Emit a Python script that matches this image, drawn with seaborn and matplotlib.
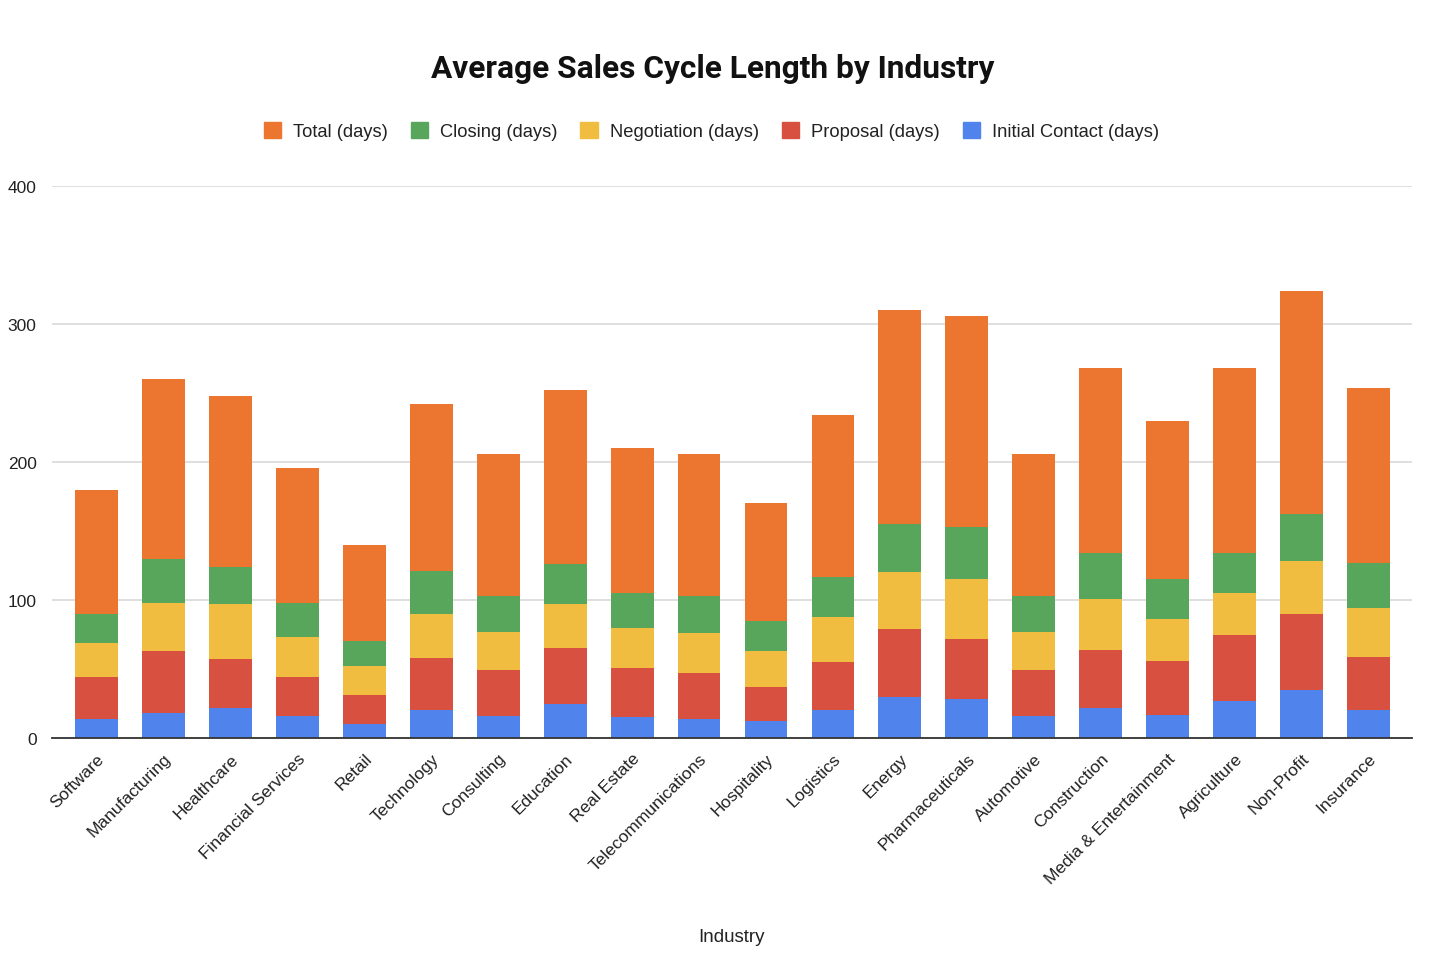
import pandas as pd
import numpy as np
import seaborn as sns
import matplotlib.pyplot as plt
from matplotlib.patches import Patch

# data
industries = ["Software", "Manufacturing", "Healthcare", "Financial Services", "Retail",
              "Technology", "Consulting", "Education", "Real Estate", "Telecommunications",
              "Hospitality", "Logistics", "Energy", "Pharmaceuticals", "Automotive",
              "Construction", "Media & Entertainment", "Agriculture", "Non-Profit", "Insurance"]
initial_contact = [14, 18, 22, 16, 10, 20, 16, 25, 15, 14, 12, 20, 30, 28, 16, 22, 17, 27, 35, 20]
proposal = [30, 45, 35, 28, 21, 38, 33, 40, 36, 33, 25, 35, 49, 44, 33, 42, 39, 48, 55, 39]
negotiation = [25, 35, 40, 29, 21, 32, 28, 32, 29, 29, 26, 33, 41, 43, 28, 37, 30, 30, 38, 35]
closing = [21, 32, 27, 25, 18, 31, 26, 29, 25, 27, 22, 29, 35, 38, 26, 33, 29, 29, 34, 33]
total = [90, 130, 124, 98, 70, 121, 103, 126, 105, 103, 85, 117, 155, 153, 103, 134, 115, 134, 162, 127]

df = pd.DataFrame({
    "Industry": industries,
    "Initial Contact (days)": initial_contact,
    "Proposal (days)": proposal,
    "Negotiation (days)": negotiation,
    "Closing (days)": closing,
    "Total (days)": total,
})

series = ["Initial Contact (days)", "Proposal (days)", "Negotiation (days)", "Closing (days)", "Total (days)"]
colors = ["#5083ec", "#d75040", "#f0bd41", "#58a55c", "#ec7530"]

sns.set_style("white")
plt.rcParams["font.family"] = ["Liberation Sans", "DejaVu Sans"]

fig = plt.figure(figsize=(14.4, 9.7), dpi=100)
ax = fig.add_axes([0.0361, 0.2381, 0.9445, 0.5691])

# stack the segments
bottom = np.zeros(len(df))
for s, c in zip(series, colors):
    sns.barplot(data=df, x="Industry", y=s, color=c, width=0.64, bottom=bottom,
                ax=ax, saturation=1, linewidth=0)
    bottom = bottom + df[s].values

ax.set_ylim(0, 400)
ax.set_xlim(-0.665, 19.65)
ax.set_yticks([0, 100, 200, 300, 400])
ax.yaxis.grid(True, color="#d6d6d6", linewidth=1.1)
ax.set_axisbelow(True)
for sp in ["top", "right", "left"]:
    ax.spines[sp].set_visible(False)
ax.spines["bottom"].set_color("#333333")
ax.spines["bottom"].set_linewidth(1.3)
ax.tick_params(axis="both", length=0, labelsize=12.5, colors="#222222")
ax.tick_params(axis="y", pad=11)
ax.tick_params(axis="x", pad=9)
plt.setp(ax.get_xticklabels(), rotation=45, ha="right", rotation_mode="anchor")
ax.set_ylabel("")
ax.set_xlabel("")

fig.text(0.495, 0.929, "Average Sales Cycle Length by Industry", ha="center", va="center",
         fontsize=22.8, fontweight="bold", family=["Roboto", "DejaVu Sans"], color="#111111")
fig.text(0.508, 0.034, "Industry", ha="center", va="center", fontsize=13.5, color="#222222")

handles = [Patch(color=c, label=s) for s, c in zip(series[::-1], colors[::-1])]
fig.legend(handles=handles, loc="center", bbox_to_anchor=(0.494, 0.864), ncol=5,
           frameon=False, fontsize=13.2, handlelength=0.95, handleheight=0.95,
           columnspacing=1.25, handletextpad=0.65, labelcolor="#222222")

fig.savefig("out.png", dpi=100)
